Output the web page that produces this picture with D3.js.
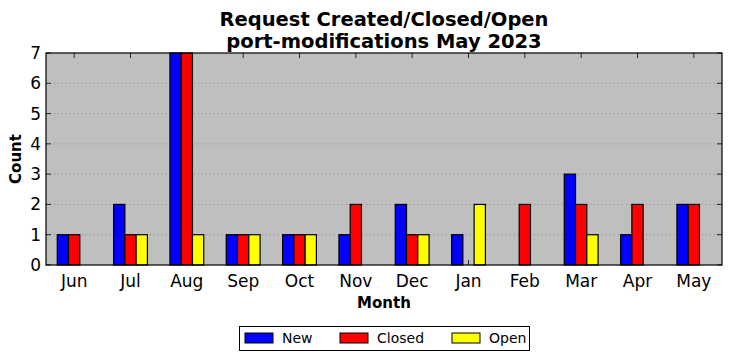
<!DOCTYPE html>
<html><head><meta charset="utf-8">
<script src="https://cdn.jsdelivr.net/npm/d3@7"></script>
<style>body{margin:0;background:#fff}svg{display:block;font-family:"DejaVu Sans",sans-serif}</style>
</head><body><svg id="c" width="732" height="361"></svg>
<script>
const months = ["Jun","Jul","Aug","Sep","Oct","Nov","Dec","Jan","Feb","Mar","Apr","May"];
const seriesNames = ["New","Closed","Open"];
const newVals = [1,2,7,1,1,1,2,1,0,3,1,2];
const closedVals = [1,1,7,1,1,2,1,0,2,2,2,2];
const openVals = [0,1,1,1,1,0,1,2,0,1,0,0];
const yTicks = [0,1,2,3,4,5,6,7];
const colors = ["#0000ff","#ff0000","#ffff00"];
const titleLines = ["Request Created/Closed/Open","port-modifications May 2023"];

const svg = d3.select("#c");
const L=46,R=722,T=53,B=265;
const x = d3.scaleLinear().domain([-0.5,11.5]).range([L,R]);
const y = d3.scaleLinear().domain([0,7]).range([B,T]);
const bw = 0.2;
const all=[newVals,closedVals,openVals];

svg.append("rect").attr("x",L).attr("y",T).attr("width",R-L).attr("height",B-T).attr("fill","#bfbfbf");
svg.append("g").selectAll("line").data(yTicks.slice(1,-1)).join("line")
 .attr("x1",L).attr("x2",R).attr("y1",d=>y(d)).attr("y2",d=>y(d))
 .attr("stroke","#808080").attr("stroke-width",0.8).attr("stroke-dasharray","1,3");
const tk=svg.append("g").attr("stroke","#000").attr("stroke-width",0.8);
months.forEach((m,i)=>{
  tk.append("line").attr("x1",x(i)).attr("x2",x(i)).attr("y1",B).attr("y2",B-5);
  tk.append("line").attr("x1",x(i)).attr("x2",x(i)).attr("y1",T).attr("y2",T+5);
});
yTicks.forEach(v=>{
  tk.append("line").attr("x1",L).attr("x2",L+5).attr("y1",y(v)).attr("y2",y(v));
  tk.append("line").attr("x1",R).attr("x2",R-5).attr("y1",y(v)).attr("y2",y(v));
});
all.forEach((vals,s)=>{
  svg.append("g").selectAll("rect").data(vals).join("rect")
   .attr("x",(d,i)=>x(i+(s-1.5)*bw)).attr("width",x(bw)-x(0))
   .attr("y",d=>y(d)).attr("height",d=>y(0)-y(d))
   .attr("fill",colors[s]).attr("stroke","#000").attr("stroke-width",1.2);
});
svg.append("rect").attr("x",L).attr("y",T).attr("width",R-L).attr("height",B-T).attr("fill","none").attr("stroke","#000").attr("stroke-width",1.2);
svg.append("g").selectAll("text").data(months).join("text")
 .attr("x",(d,i)=>x(i)).attr("y",B+22).attr("text-anchor","middle").attr("font-size",17).text(d=>d);
svg.append("g").selectAll("text").data(yTicks).join("text")
 .attr("x",L-5).attr("y",d=>y(d)+6).attr("text-anchor","end").attr("font-size",17).text(d=>d);
titleLines.forEach((t,i)=>svg.append("text").attr("x",(L+R)/2).attr("y",26+i*22).attr("text-anchor","middle")
 .attr("font-size",19.5).attr("font-weight","bold").text(t));
svg.append("text").attr("x",(L+R)/2).attr("y",308).attr("text-anchor","middle").attr("font-size",15).attr("font-weight","bold").text("Month");
svg.append("text").attr("transform","translate(21,159) rotate(-90)").attr("text-anchor","middle").attr("font-size",15).attr("font-weight","bold").text("Count");
const lg=svg.append("g");
lg.append("rect").attr("x",239.5).attr("y",326.5).attr("width",290).attr("height",24).attr("fill","#fff").attr("stroke","#000").attr("stroke-width",1);
const lx=[245,340,452];
seriesNames.forEach((n,i)=>{
  lg.append("rect").attr("x",lx[i]).attr("y",333).attr("width",28).attr("height",10).attr("fill",colors[i]).attr("stroke","#000").attr("stroke-width",1);
  lg.append("text").attr("x",lx[i]+37).attr("y",343).attr("font-size",14).text(n);
});
</script></body></html>
